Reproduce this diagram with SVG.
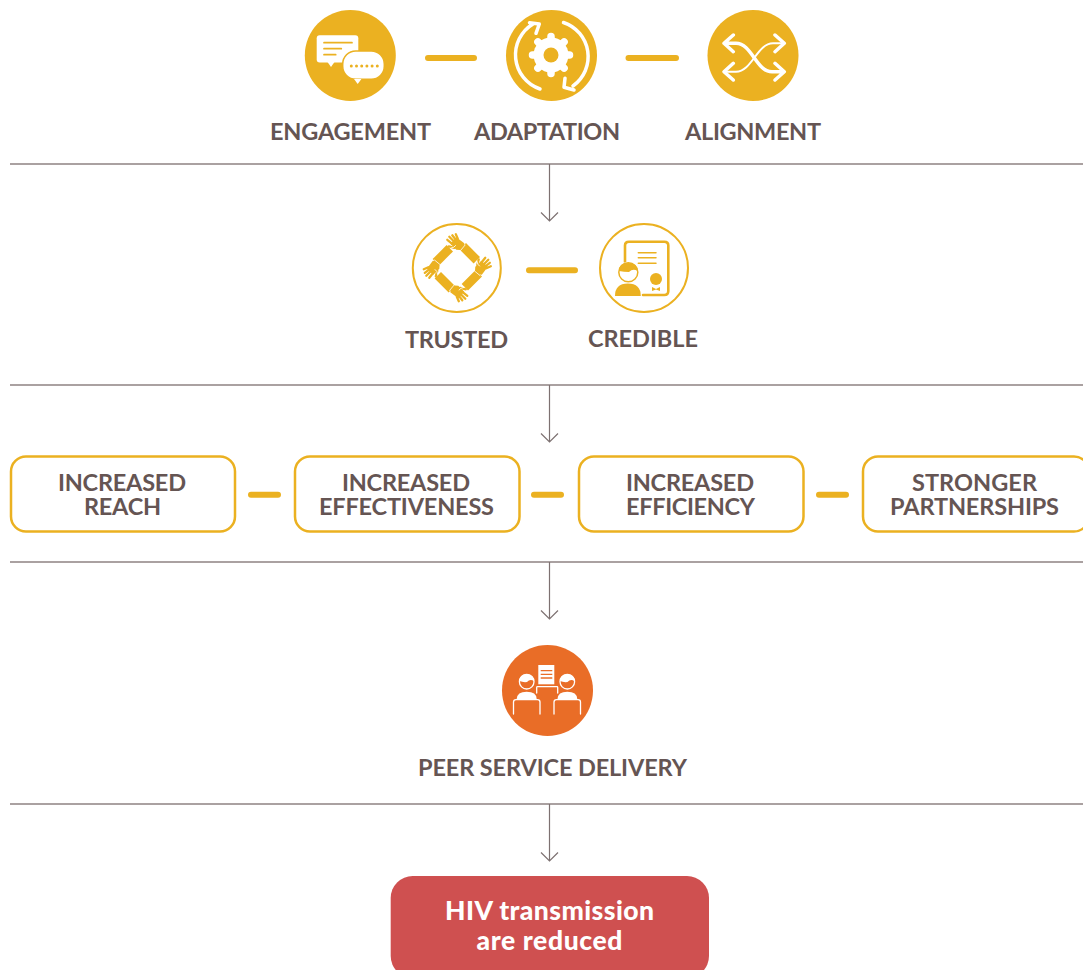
<svg xmlns="http://www.w3.org/2000/svg" width="1083" height="970" viewBox="0 0 1083 970">
<style>
.lb{font-family:Lato,"Open Sans",sans-serif;font-weight:700;font-size:23.5px;fill:#655553;text-anchor:middle}
.wt{font-family:Lato,"Open Sans",sans-serif;font-weight:900;font-size:26.5px;fill:#fff;text-anchor:middle}
.rule{stroke:#8e8383;stroke-width:1.5;fill:none}
.ar{stroke:#7d7171;stroke-width:1.2;fill:none}
.dash{stroke:#ebb121;stroke-width:6;stroke-linecap:round;fill:none}
.box{fill:#fff;stroke:#ebb121;stroke-width:2.5}
.g{fill:#ebb121}
.ring{fill:#fff;stroke:#ebb121;stroke-width:2}
.wl{stroke:#fff;fill:none;stroke-linecap:round;stroke-linejoin:round}
.gl{stroke:#ebb121;fill:none;stroke-linecap:round;stroke-linejoin:round}
.ol{stroke:#e96d27;fill:none}
</style>
<defs>
<g id="hand">
<path d="M5.500 -21.500L19.500 -7.500" stroke="#ebb121" stroke-width="9" fill="none"/>
<path d="M-7 -24L-1 -30.500L7 -24.500L6 -17.500L-1 -18Z" class="g"/>
<path d="M-5 -24L-10 -28M-3.500 -26.500L-8 -31M-1.500 -28L-5 -32.500M0.500 -29L-1.500 -33.500M-3 -20L-8.500 -21.500" class="gl" stroke-width="2.300"/>
<path d="M-7 -19.500Q-3 -20 -1.500 -22.500" stroke="#fff" stroke-width="0.900" fill="none"/>
<path d="M3 -17L8 -23" stroke="#fff" stroke-width="0.800" fill="none"/>
</g>
</defs>
<g id="connectors">
<path class="rule" d="M10 164H1083M10 385H1083M10 562H1083M10 804H1083"/>
<path class="ar" d="M549.500 164V221M541 212.500L549.500 221L558 212.500"/>
<path class="ar" d="M549.500 385V442M541 433.500L549.500 442L558 433.500"/>
<path class="ar" d="M549.500 562V619M541 610.500L549.500 619L558 610.500"/>
<path class="ar" d="M549.500 804V861M541 852.500L549.500 861L558 852.500"/>
<path class="dash" d="M428 58H474M628.500 58H676M529 270.300H575M251 494.700H278M534 494.700H561M819 494.700H846"/>
</g>
<g id="engagement">
<circle cx="350.300" cy="55.500" r="45.500" class="g"/>
<rect x="316.700" y="35.300" width="41.600" height="27.300" rx="3" fill="#fff"/>
<path d="M327.500 62L331 67L334.500 62Z" fill="#fff"/>
<path d="M324 42.700H352M324 48.700H341.300M324 54.700H335.700" class="gl" stroke-width="1.700"/>
<rect x="342.700" y="51" width="41.600" height="28.300" rx="13" fill="#fff" stroke="#ebb121" stroke-width="1.500"/>
<path d="M354 79L357.700 84L361.400 79Z" fill="#fff"/>
<path d="M351.300 66H377.500" stroke="#ebb121" stroke-width="3" stroke-linecap="round" stroke-dasharray="0 5.200" fill="none"/>
<text class="lb" x="350.500" y="140" textLength="161">ENGAGEMENT</text>
</g>
<g id="adaptation">
<circle cx="551.500" cy="55.500" r="45.500" class="g"/>
<path class="wl" stroke-width="3.500" d="M533 24A36 36 0 0 0 540 89M529.500 22.700L539.300 24L536 33.300"/>
<path class="wl" stroke-width="3.500" d="M563.500 22.500A36 36 0 0 1 573 86M565 78.300L564 87.300L574 90"/>
<g transform="translate(551 55)">
<circle r="17.500" fill="#fff"/>
<path d="M0 -15V-18.500M10.600 -10.600L13.100 -13.100M15 0H18.500M10.600 10.600L13.100 13.100M0 15V18.500M-10.600 10.600L-13.100 13.100M-15 0H-18.500M-10.600 -10.600L-13.100 -13.100" class="wl" stroke-width="7.500"/>
<circle r="7.500" class="g"/>
</g>
<text class="lb" x="547" y="140" textLength="146">ADAPTATION</text>
</g>
<g id="alignment">
<circle cx="753" cy="55.500" r="45.500" class="g"/>
<path class="wl" stroke-width="3.500" d="M724 43.300H736C752 43.300 756 71.700 772 71.700H784.300M733.300 35L724 43.300L733.300 51.700M775 63.300L784.300 71.700L775 80"/>
<path class="wl" stroke-width="2" d="M784.300 43.300H773C757 43.300 752 71.700 736 71.700H724"/>
<path class="wl" stroke-width="3.500" d="M775 35L784.300 43.300L775 51.700M733.300 63.300L724 71.700L733.300 80"/>
<text class="lb" x="753" y="140" textLength="136">ALIGNMENT</text>
</g>
<g id="trusted">
<circle cx="456.800" cy="268" r="44" class="ring"/>
<g transform="translate(457.300 267.800)">
<use href="#hand"/>
<use href="#hand" transform="rotate(90)"/>
<use href="#hand" transform="rotate(180)"/>
<use href="#hand" transform="rotate(270)"/>
</g>
<text class="lb" x="456.500" y="348" textLength="103">TRUSTED</text>
</g>
<g id="credible">
<circle cx="644" cy="268" r="44" class="ring"/>
<path class="gl" stroke-width="2.600" d="M625 262V245.500Q625 241.700 629 241.700H664.300Q668.300 241.700 668.300 245.500V291Q668.300 295 664.300 295H643"/>
<path class="gl" stroke-width="1.500" d="M638.300 252.700H656M638.300 257.700H656M638.300 263.300H656"/>
<circle cx="628.300" cy="272.300" r="10.500" fill="#fff"/>
<circle cx="628.300" cy="272.300" r="9.500" fill="#fff" stroke="#ebb121" stroke-width="1.500"/>
<path class="g" d="M619 271Q619 263 628.300 263Q637.600 263 637.600 271Q633 268 629 272Q624 272 619 271Z"/>
<path class="g" d="M615 296Q615 283.500 627.800 283.500Q640.800 283.500 640.800 296Z"/>
<circle cx="656" cy="279" r="6" class="g"/>
<path d="M652 287L656 289L660 287V291L656 289.500L652 291Z" class="g"/>
<text class="lb" x="643" y="347" textLength="110">CREDIBLE</text>
</g>
<g id="reach">
<rect class="box" x="11" y="456.500" width="224" height="75" rx="15"/>
<text class="lb" x="122" y="491" textLength="128">INCREASED</text>
<text class="lb" x="122.500" y="515" textLength="77">REACH</text>
</g>
<g id="effectiveness">
<rect class="box" x="295" y="456.500" width="224.500" height="75" rx="15"/>
<text class="lb" x="406" y="491" textLength="128">INCREASED</text>
<text class="lb" x="406.500" y="515" textLength="175">EFFECTIVENESS</text>
</g>
<g id="efficiency">
<rect class="box" x="579" y="456.500" width="224.500" height="75" rx="15"/>
<text class="lb" x="690" y="491" textLength="128">INCREASED</text>
<text class="lb" x="690.500" y="515" textLength="129">EFFICIENCY</text>
</g>
<g id="partnerships">
<rect class="box" x="863" y="456.500" width="226" height="75" rx="15"/>
<text class="lb" x="974.500" y="491" textLength="125">STRONGER</text>
<text class="lb" x="974.500" y="515" textLength="169">PARTNERSHIPS</text>
</g>
<g id="peer">
<circle cx="547.500" cy="690.500" r="45.500" fill="#e96d27"/>
<rect x="538.300" y="665" width="16" height="19.300" fill="#fff"/>
<path class="ol" stroke-width="1.300" d="M540.700 670.700H552.300M540.700 674.300H552.300M540.700 678H552.300"/>
<path class="wl" stroke-width="1.300" d="M536.700 693V687.500Q536.700 686.700 537.500 686.700H557Q557.700 686.700 557.700 687.500V693"/>
<g id="peer-left">
<circle cx="526.700" cy="681.700" r="7.300" fill="#e96d27" stroke="#fff" stroke-width="1.300"/>
<path d="M519.500 681Q519.500 674.500 526.700 674.500Q534 674.500 534 681Q530 678.500 527 682Q523 682.500 519.500 681Z" fill="#fff"/>
<path d="M516.700 699Q517 691.700 526.700 691.700Q536.500 691.700 536.700 699Z" fill="#fff"/>
<path class="wl" stroke-width="1.300" d="M513.500 714V702Q513.500 699.700 516 699.700H537.500Q540 699.700 540 702V714"/>
</g>
<g id="peer-right">
<circle cx="567.300" cy="681.700" r="7.300" fill="#e96d27" stroke="#fff" stroke-width="1.300"/>
<path d="M560 681Q560 674.500 567.300 674.500Q574.600 674.500 574.600 681Q570.500 678.500 567.500 682Q563.500 682.500 560 681Z" fill="#fff"/>
<path d="M557.500 699Q557.800 691.700 567.300 691.700Q577 691.700 577.300 699Z" fill="#fff"/>
<path class="wl" stroke-width="1.300" d="M554 714V702Q554 699.700 556.500 699.700H578Q580.500 699.700 580.500 702V714"/>
</g>
<text class="lb" x="552.500" y="776" textLength="269">PEER SERVICE DELIVERY</text>
</g>
<g id="outcome">
<rect x="390.700" y="876" width="318.300" height="102" rx="22" fill="#cf5050"/>
<text class="wt" x="549.500" y="920" textLength="209">HIV transmission</text>
<text class="wt" x="549.500" y="950" textLength="146">are reduced</text>
</g>
</svg>
